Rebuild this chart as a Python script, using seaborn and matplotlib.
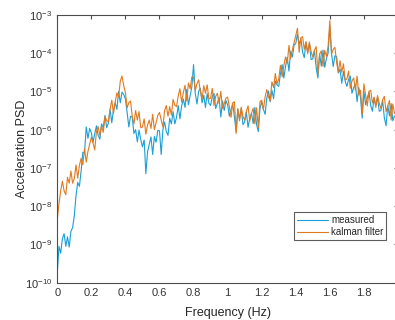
import numpy as np
import pandas as pd
import seaborn as sns
import matplotlib
matplotlib.use("Agg")
import matplotlib.pyplot as plt
from matplotlib.ticker import LogLocator, FixedLocator, NullFormatter

# Frequency grid (Hz), 0.00 .. 1.98 in 0.01 steps
freq = [round(i * 0.01, 2) for i in range(199)]

# log10 of PSD
measured_log = [
    -9.75, -9.05, -9.23, -8.85, -8.72, -9.05, -8.80, -9.07, -8.66, -8.56,
    -8.25, -7.72, -7.38, -7.48, -7.08, -6.59, -6.60, -5.93, -6.23, -5.97,
    -6.08, -6.33, -6.10, -5.90, -6.15, -6.25, -5.85, -5.95, -5.63, -5.95,
    -5.83, -5.47, -5.82, -5.48, -5.30, -5.47, -5.00, -5.30, -5.02, -5.08,
    -5.20, -5.55, -5.93, -5.65, -5.67, -6.10, -6.00, -6.32, -6.01, -6.26,
    -6.45, -6.27, -7.15, -6.58, -6.38, -6.19, -6.65, -6.18, -6.33, -6.02,
    -6.03, -6.65, -6.00, -5.80, -6.05, -6.15, -5.70, -5.85, -5.53, -5.85,
    -5.68, -5.37, -5.72, -5.38, -5.20, -5.42, -4.95, -5.35, -5.12, -4.88,
    -4.30, -5.05, -5.33, -5.00, -4.92, -5.30, -5.10, -5.42, -5.06, -5.31,
    -5.37, -5.14, -5.05, -5.45, -5.30, -5.16, -5.67, -5.25, -5.50, -5.24,
    -5.35, -5.65, -5.47, -5.32, -5.67, -6.05, -5.47, -5.72, -5.45, -5.87,
    -5.80, -5.54, -5.94, -5.70, -5.57, -5.84, -5.42, -5.87, -6.05, -5.45,
    -5.27, -5.47, -5.60, -5.17, -4.99, -5.27, -4.97, -5.19, -4.73, -4.83,
    -4.87, -4.54, -4.30, -4.65, -4.35, -4.11, -4.47, -3.95, -4.10, -3.79,
    -3.75, -3.50, -3.77, -3.62, -3.97, -4.12, -3.72, -3.97, -3.75, -4.17,
    -4.15, -3.94, -4.39, -4.65, -4.02, -4.34, -3.92, -4.37, -4.14, -4.00,
    -3.30, -4.02, -4.35, -4.07, -4.09, -4.52, -4.42, -4.79, -4.48, -4.73,
    -4.87, -4.69, -4.60, -5.05, -4.90, -4.81, -5.27, -4.90, -5.15, -5.70,
    -5.00, -5.35, -5.17, -5.02, -5.37, -5.52, -5.17, -5.37, -5.15, -5.52,
    -5.50, -5.24, -5.69, -5.90, -5.37, -5.64, -5.32, -5.77, -5.64,
]

kalman_log = [
    -8.35, -7.93, -7.60, -7.35, -7.60, -7.70, -7.25, -7.40, -7.08, -7.40,
    -7.28, -6.92, -7.27, -6.93, -6.75, -6.92, -6.50, -6.85, -6.57, -6.38,
    -6.20, -6.35, -6.53, -6.05, -5.92, -6.15, -5.90, -6.07, -5.66, -5.76,
    -5.80, -5.47, -5.23, -5.58, -5.28, -5.04, -5.15, -4.73, -4.60, -4.85,
    -5.03, -5.43, -5.30, -5.25, -5.65, -5.85, -5.50, -5.75, -5.53, -5.95,
    -5.93, -5.72, -6.12, -5.88, -5.75, -5.97, -5.60, -6.00, -5.82, -5.63,
    -5.55, -5.75, -5.93, -5.50, -5.37, -5.65, -5.40, -5.62, -5.21, -5.36,
    -5.40, -5.12, -4.93, -5.28, -5.03, -4.84, -5.25, -4.78, -4.93, -4.62,
    -4.63, -4.98, -4.80, -4.70, -5.00, -5.20, -4.85, -5.05, -4.83, -5.20,
    -5.18, -4.92, -5.37, -5.13, -5.05, -5.32, -5.00, -5.45, -5.32, -5.18,
    -5.15, -5.40, -5.68, -5.30, -5.27, -6.10, -5.45, -5.77, -5.41, -5.66,
    -5.75, -5.52, -5.38, -5.78, -5.58, -5.44, -5.85, -5.43, -5.95, -5.27,
    -5.23, -5.48, -5.15, -4.95, -5.15, -5.25, -4.75, -4.90, -4.53, -4.80,
    -4.68, -4.32, -4.62, -4.33, -4.10, -4.27, -3.80, -4.15, -3.92, -3.73,
    -3.55, -3.35, -3.98, -3.60, -3.57, -3.90, -3.70, -4.02, -3.71, -3.96,
    -4.10, -3.92, -3.83, -4.55, -4.03, -3.94, -4.35, -3.93, -4.08, -3.82,
    -3.15, -4.03, -3.90, -3.85, -4.25, -4.50, -4.20, -4.50, -4.28, -4.70,
    -4.68, -4.47, -4.92, -4.73, -4.65, -4.97, -4.60, -5.10, -4.97, -5.60,
    -4.80, -5.10, -5.38, -5.00, -4.97, -5.30, -5.15, -5.42, -5.11, -5.31,
    -5.45, -5.22, -5.13, -5.53, -5.38, -5.24, -5.75, -5.33, -5.58,
]

series_names = ["measured", "kalman filter"]
series_colors = ["#1a9fd6", "#e07a1f"]
x_ticks = [0, 0.2, 0.4, 0.6, 0.8, 1.0, 1.2, 1.4, 1.6, 1.8]
x_tick_labels = ["0", "0.2", "0.4", "0.6", "0.8", "1", "1.2", "1.4", "1.6", "1.8"]

df = pd.DataFrame({
    "Frequency (Hz)": freq * 2,
    "PSD": list(10.0 ** np.array(measured_log)) + list(10.0 ** np.array(kalman_log)),
    "series": [series_names[0]] * len(freq) + [series_names[1]] * len(freq),
})

sns.set_style("white")
plt.rcParams["font.family"] = ["Liberation Sans", "DejaVu Sans"]
plt.rcParams["mathtext.fontset"] = "custom"
plt.rcParams["mathtext.rm"] = "Liberation Sans"

fig = plt.figure(figsize=(3.95, 3.2), dpi=100)
ax = fig.add_axes([0.145, 0.1166, 0.8625, 0.837])

sns.lineplot(data=df, x="Frequency (Hz)", y="PSD", hue="series",
             palette=dict(zip(series_names, series_colors)),
             hue_order=series_names, estimator=None, linewidth=0.8, ax=ax)

ax.set_yscale("log")
ax.set_ylim(1e-10, 1e-3)
ax.set_xlim(0, 2.0)
ax.xaxis.set_major_locator(FixedLocator(x_ticks))
ax.set_xticklabels(x_tick_labels)
ax.yaxis.set_major_locator(LogLocator(base=10, numticks=20))
ax.yaxis.set_minor_locator(LogLocator(base=10, subs=np.arange(2, 10), numticks=20))
ax.yaxis.set_minor_formatter(NullFormatter())

col = "#4d4d4d"
for s in ax.spines.values():
    s.set_color(col)
    s.set_linewidth(0.8)
ax.tick_params(which="both", direction="in", top=True, right=True, colors=col,
               labelcolor="#333333", labelsize=8)
ax.tick_params(which="major", length=3)
ax.tick_params(which="minor", length=1.5)

ax.set_xlabel("Frequency (Hz)", fontsize=9, color="#262626", labelpad=7)
ax.set_ylabel("Acceleration PSD", fontsize=9, color="#262626", labelpad=-2)

leg = ax.legend(loc="lower right", bbox_to_anchor=(0.966, 0.16), fontsize=7,
                frameon=True, fancybox=False, handlelength=3.2, handletextpad=0.3,
                borderpad=0.3, labelspacing=0.2, borderaxespad=0)
leg.get_frame().set_edgecolor("#333333")
leg.get_frame().set_linewidth(0.8)
for h in leg.get_lines():
    h.set_linewidth(0.8)

fig.savefig("out.png", dpi=100)
